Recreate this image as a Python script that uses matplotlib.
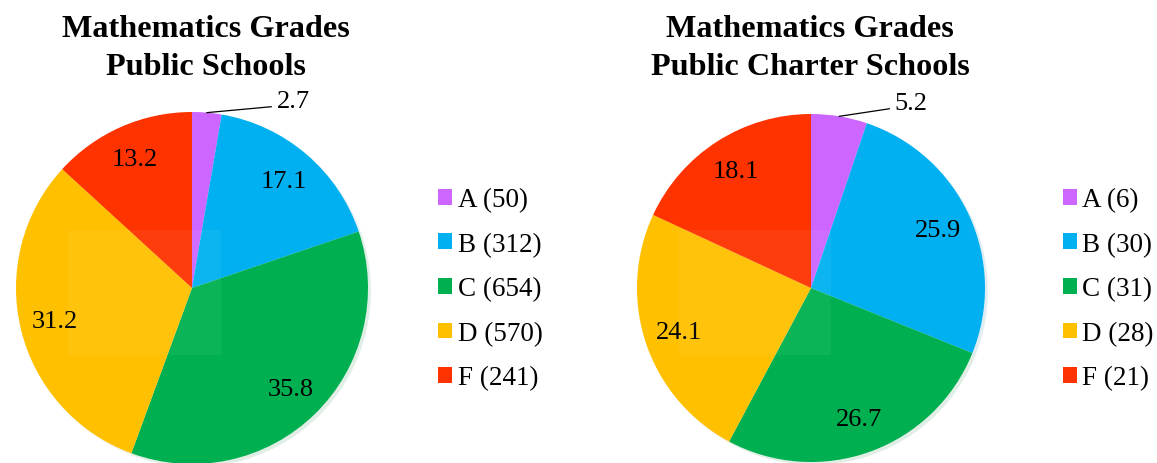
import numpy as np
import matplotlib.pyplot as plt
from matplotlib.patches import Patch, Rectangle

grades = ["A", "B", "C", "D", "F"]
public_pct = [2.7, 17.1, 35.8, 31.2, 13.2]
public_n = [50, 312, 654, 570, 241]
charter_pct = [5.2, 25.9, 26.7, 24.1, 18.1]
charter_n = [6, 30, 31, 28, 21]
colors = ["#cc66ff", "#00b0f0", "#00b050", "#ffc000", "#ff3300"]

W, H = 1157, 464
plt.rcParams["font.family"] = ["Liberation Serif", "DejaVu Serif"]

fig = plt.figure(figsize=(W / 100, H / 100), dpi=100)


def px_axes(cx, cy, r):
    # axes box in pixel coords, y measured from the top
    return fig.add_axes([(cx - r) / W, (H - cy - r) / H, 2 * r / W, 2 * r / H])


def draw_pie(cx, cy, r, pct, counts, title, tx, legend_x, rect_x):
    ax = px_axes(cx, cy, r)
    wedges, _ = ax.pie(pct, colors=colors, startangle=90, counterclock=False,
                       radius=1, wedgeprops=dict(linewidth=0),
                       shadow=dict(ox=0.012, oy=-0.012, shade=0.3, alpha=0.12))
    ax.set_xlim(-1, 1)
    ax.set_ylim(-1, 1)
    ax.set_aspect("equal")
    ax.axis("off")

    for i, w in enumerate(wedges):
        mid = np.deg2rad((w.theta1 + w.theta2) / 2)
        x, y = np.cos(mid), np.sin(mid)
        if i == 0:
            ax.plot([x, 0.45], [y, 1.03], color="black", lw=0.9, clip_on=False)
            ax.text(0.48, 1.065, f"{pct[i]}", ha="left", va="center",
                    fontsize=19, clip_on=False)
        else:
            ax.text(0.8 * x, 0.8 * y, f"{pct[i]}", ha="center", va="center",
                    fontsize=19)

    fig.text(tx / W, 1 - 37 / H, "Mathematics Grades", ha="center",
             va="baseline", fontsize=23.2, fontweight="bold")
    fig.text(tx / W, 1 - 75 / H, title, ha="center", va="baseline",
             fontsize=23.2, fontweight="bold")

    handles = [Patch(facecolor=c, edgecolor="none") for c in colors]
    labels = [f"{g} ({n})" for g, n in zip(grades, counts)]
    fig.legend(handles, labels, loc="center left",
               bbox_to_anchor=(legend_x / W, 1 - 290 / H), frameon=False,
               fontsize=19.5, handlelength=0.52, handleheight=0.52,
               handletextpad=0.2, labelspacing=0.72, borderaxespad=0,
               borderpad=0)

    # faint lighter patch seen in the source image
    fig.add_artist(Rectangle((rect_x / W, 1 - 356 / H), 153 / W, 125 / H,
                             transform=fig.transFigure, facecolor="white",
                             edgecolor="none", alpha=0.05))


draw_pie(192, 289, 176, public_pct, public_n, "Public Schools", 206, 438, 68)
draw_pie(811, 289, 174, charter_pct, charter_n, "Public Charter Schools", 810,
         1063, 678)

fig.savefig("out.png", dpi=100)
